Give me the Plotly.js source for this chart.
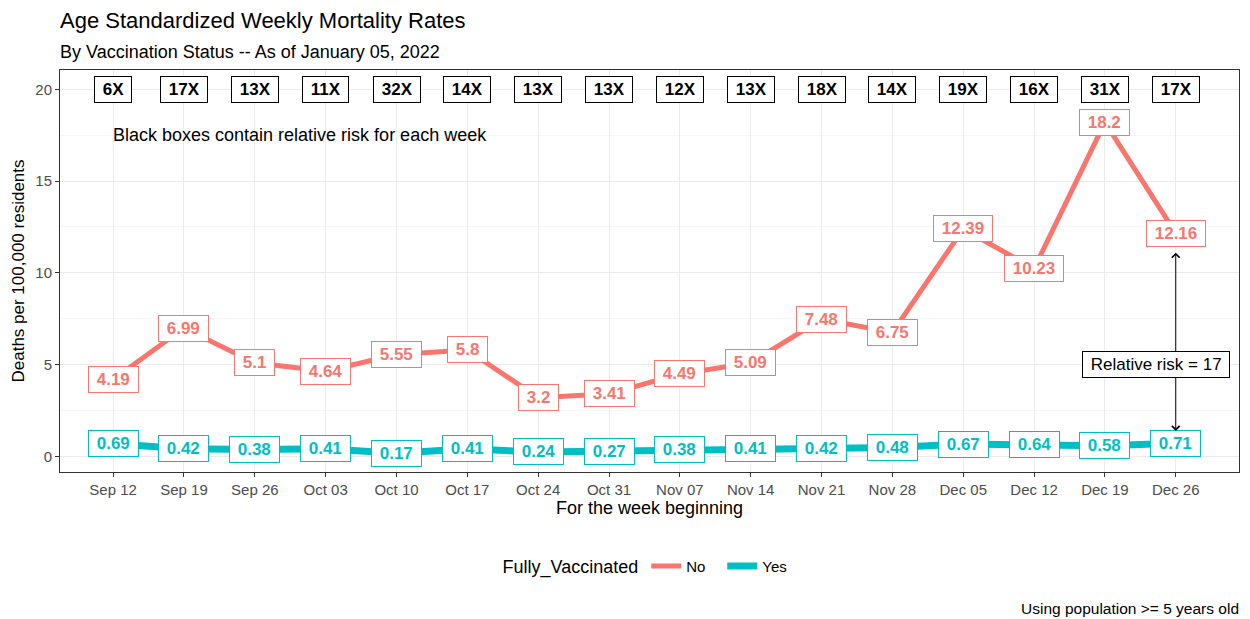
<!DOCTYPE html>
<html>
<head>
<meta charset="utf-8">
<script src="https://cdn.plot.ly/plotly-3.0.1.min.js"></script>
<style>html,body{margin:0;padding:0;background:#fff;}#chart{width:1250px;height:619px;}</style>
</head>
<body>
<div id="chart"></div>
<script>
const weeks = ['2021-09-12','2021-09-19','2021-09-26','2021-10-03','2021-10-10','2021-10-17','2021-10-24','2021-10-31','2021-11-07','2021-11-14','2021-11-21','2021-11-28','2021-12-05','2021-12-12','2021-12-19','2021-12-26'];
const weekLabels = ['Sep 12','Sep 19','Sep 26','Oct 03','Oct 10','Oct 17','Oct 24','Oct 31','Nov 07','Nov 14','Nov 21','Nov 28','Dec 05','Dec 12','Dec 19','Dec 26'];
const unvaccinated = [4.19,6.99,5.1,4.64,5.55,5.8,3.2,3.41,4.49,5.09,7.48,6.75,12.39,10.23,18.2,12.16];
const vaccinated = [0.69,0.42,0.38,0.41,0.17,0.41,0.24,0.27,0.38,0.41,0.42,0.48,0.67,0.64,0.58,0.71];
const relativeRisk = [6,17,13,11,32,14,13,13,12,13,18,14,19,16,31,17];
const riskBoxY = 20;
const arrowTop = 11.1, arrowBottom = 1.3, rrLabelY = 5, rrLabelX = '2021-12-24';

const RED = '#F8766D', BLUE = '#00BFC4';
const FONT = '"Liberation Sans", Arial, sans-serif';
const SP = '&nbsp;';

const traces = [
  {x: weeks, y: unvaccinated, name: 'No', mode: 'lines', type: 'scatter',
   line: {color: RED, width: 5}, hoverinfo: 'x+y'},
  {x: weeks, y: vaccinated, name: 'Yes', mode: 'lines', type: 'scatter',
   line: {color: BLUE, width: 7}, hoverinfo: 'x+y'}
];

function box(x, y, txt, color) {
  return {x: x, y: y, xref: 'x', yref: 'y', text: SP + '<b>' + txt + '</b>' + SP,
    showarrow: false, font: {family: FONT, size: 17, color: color}, bgcolor: '#ffffff',
    bordercolor: color, borderwidth: 1, borderpad: 3};
}

const ann = [];
weeks.forEach((w, i) => {
  ann.push(box(w, unvaccinated[i], unvaccinated[i], RED));
  ann.push(box(w, vaccinated[i], vaccinated[i], BLUE));
  ann.push(box(w, riskBoxY, relativeRisk[i] + 'X', '#000000'));
});
// double-headed arrow
ann.push({x: weeks[15], y: arrowTop, ax: weeks[15], ay: arrowBottom, xref: 'x', yref: 'y', axref: 'x', ayref: 'y',
  text: '', showarrow: true, arrowside: 'end+start', arrowhead: 4, startarrowhead: 4, arrowsize: 1.5, startarrowsize: 1.5,
  arrowwidth: 1, arrowcolor: '#000000'});
ann.push({x: rrLabelX, y: rrLabelY, xref: 'x', yref: 'y', text: SP + 'Relative risk = ' + relativeRisk[15] + SP,
  showarrow: false, font: {family: FONT, size: 17, color: '#000000'}, bgcolor: '#ffffff',
  bordercolor: '#000000', borderwidth: 1, borderpad: 3});
ann.push({x: weeks[0], y: 17.5, xref: 'x', yref: 'y', xanchor: 'left', xshift: -2,
  text: 'Black boxes contain relative risk for each week',
  showarrow: false, font: {family: FONT, size: 18, color: '#000000'}});
// subtitle and caption
ann.push({xref: 'paper', yref: 'paper', x: 0, y: 1, yshift: 18, xshift: -2, xanchor: 'left', yanchor: 'middle',
  text: 'By Vaccination Status -- As of January 05, 2022', showarrow: false, font: {family: FONT, size: 18, color: '#000000'}});
ann.push({xref: 'paper', yref: 'paper', x: 1, y: 0, yshift: -136, xshift: 2, xanchor: 'right', yanchor: 'middle',
  text: 'Using population >= 5 years old', showarrow: false, font: {family: FONT, size: 15.5, color: '#000000'}});

const layout = {
  width: 1250, height: 619,
  margin: {l: 60, r: 11, t: 70, b: 147},
  paper_bgcolor: '#ffffff', plot_bgcolor: '#ffffff',
  font: {family: FONT},
  title: {text: 'Age Standardized Weekly Mortality Rates', x: 60/1250, xanchor: 'left', y: 1 - 20/619, yanchor: 'middle',
    font: {family: FONT, size: 22, color: '#000000'}},
  xaxis: {type: 'date', range: ['2021-09-06 18:00', '2022-01-01 06:00'],
    tickvals: weeks, ticktext: weekLabels, ticks: 'outside', ticklen: 4, tickcolor: '#333333',
    tickfont: {family: FONT, size: 15, color: '#4d4d4d'},
    showgrid: true, gridcolor: '#ebebeb', gridwidth: 1, zeroline: false,
    showline: true, linecolor: '#333333', linewidth: 1, mirror: true,
    title: {text: 'For the week beginning', font: {family: FONT, size: 18, color: '#000000'}, standoff: 4}},
  yaxis: {range: [-0.85, 21.05], tickvals: [0,5,10,15,20], ticks: 'outside', ticklen: 4, tickcolor: '#333333',
    tickfont: {family: FONT, size: 15, color: '#4d4d4d'},
    showgrid: true, gridcolor: '#ebebeb', gridwidth: 1, zeroline: false,
    minor: {tickvals: [2.5, 7.5, 12.5, 17.5], showgrid: true, gridcolor: '#f0f0f0', gridwidth: 0.6, ticks: ''},
    showline: true, linecolor: '#333333', linewidth: 1, mirror: true,
    title: {text: 'Deaths per 100,000 residents', font: {family: FONT, size: 17, color: '#000000'}, standoff: 6}},
  showlegend: true,
  legend: {orientation: 'h', x: 0.5, xanchor: 'center', y: -0.236, yanchor: 'middle',
    entrywidth: 31, entrywidthmode: 'pixels',
    title: {text: 'Fully_Vaccinated', font: {family: FONT, size: 18, color: '#000000'}, side: 'left'},
    font: {family: FONT, size: 15, color: '#000000'}},
  annotations: ann
};

Plotly.newPlot('chart', traces, layout, {displayModeBar: false, staticPlot: true});
</script>
</body>
</html>
